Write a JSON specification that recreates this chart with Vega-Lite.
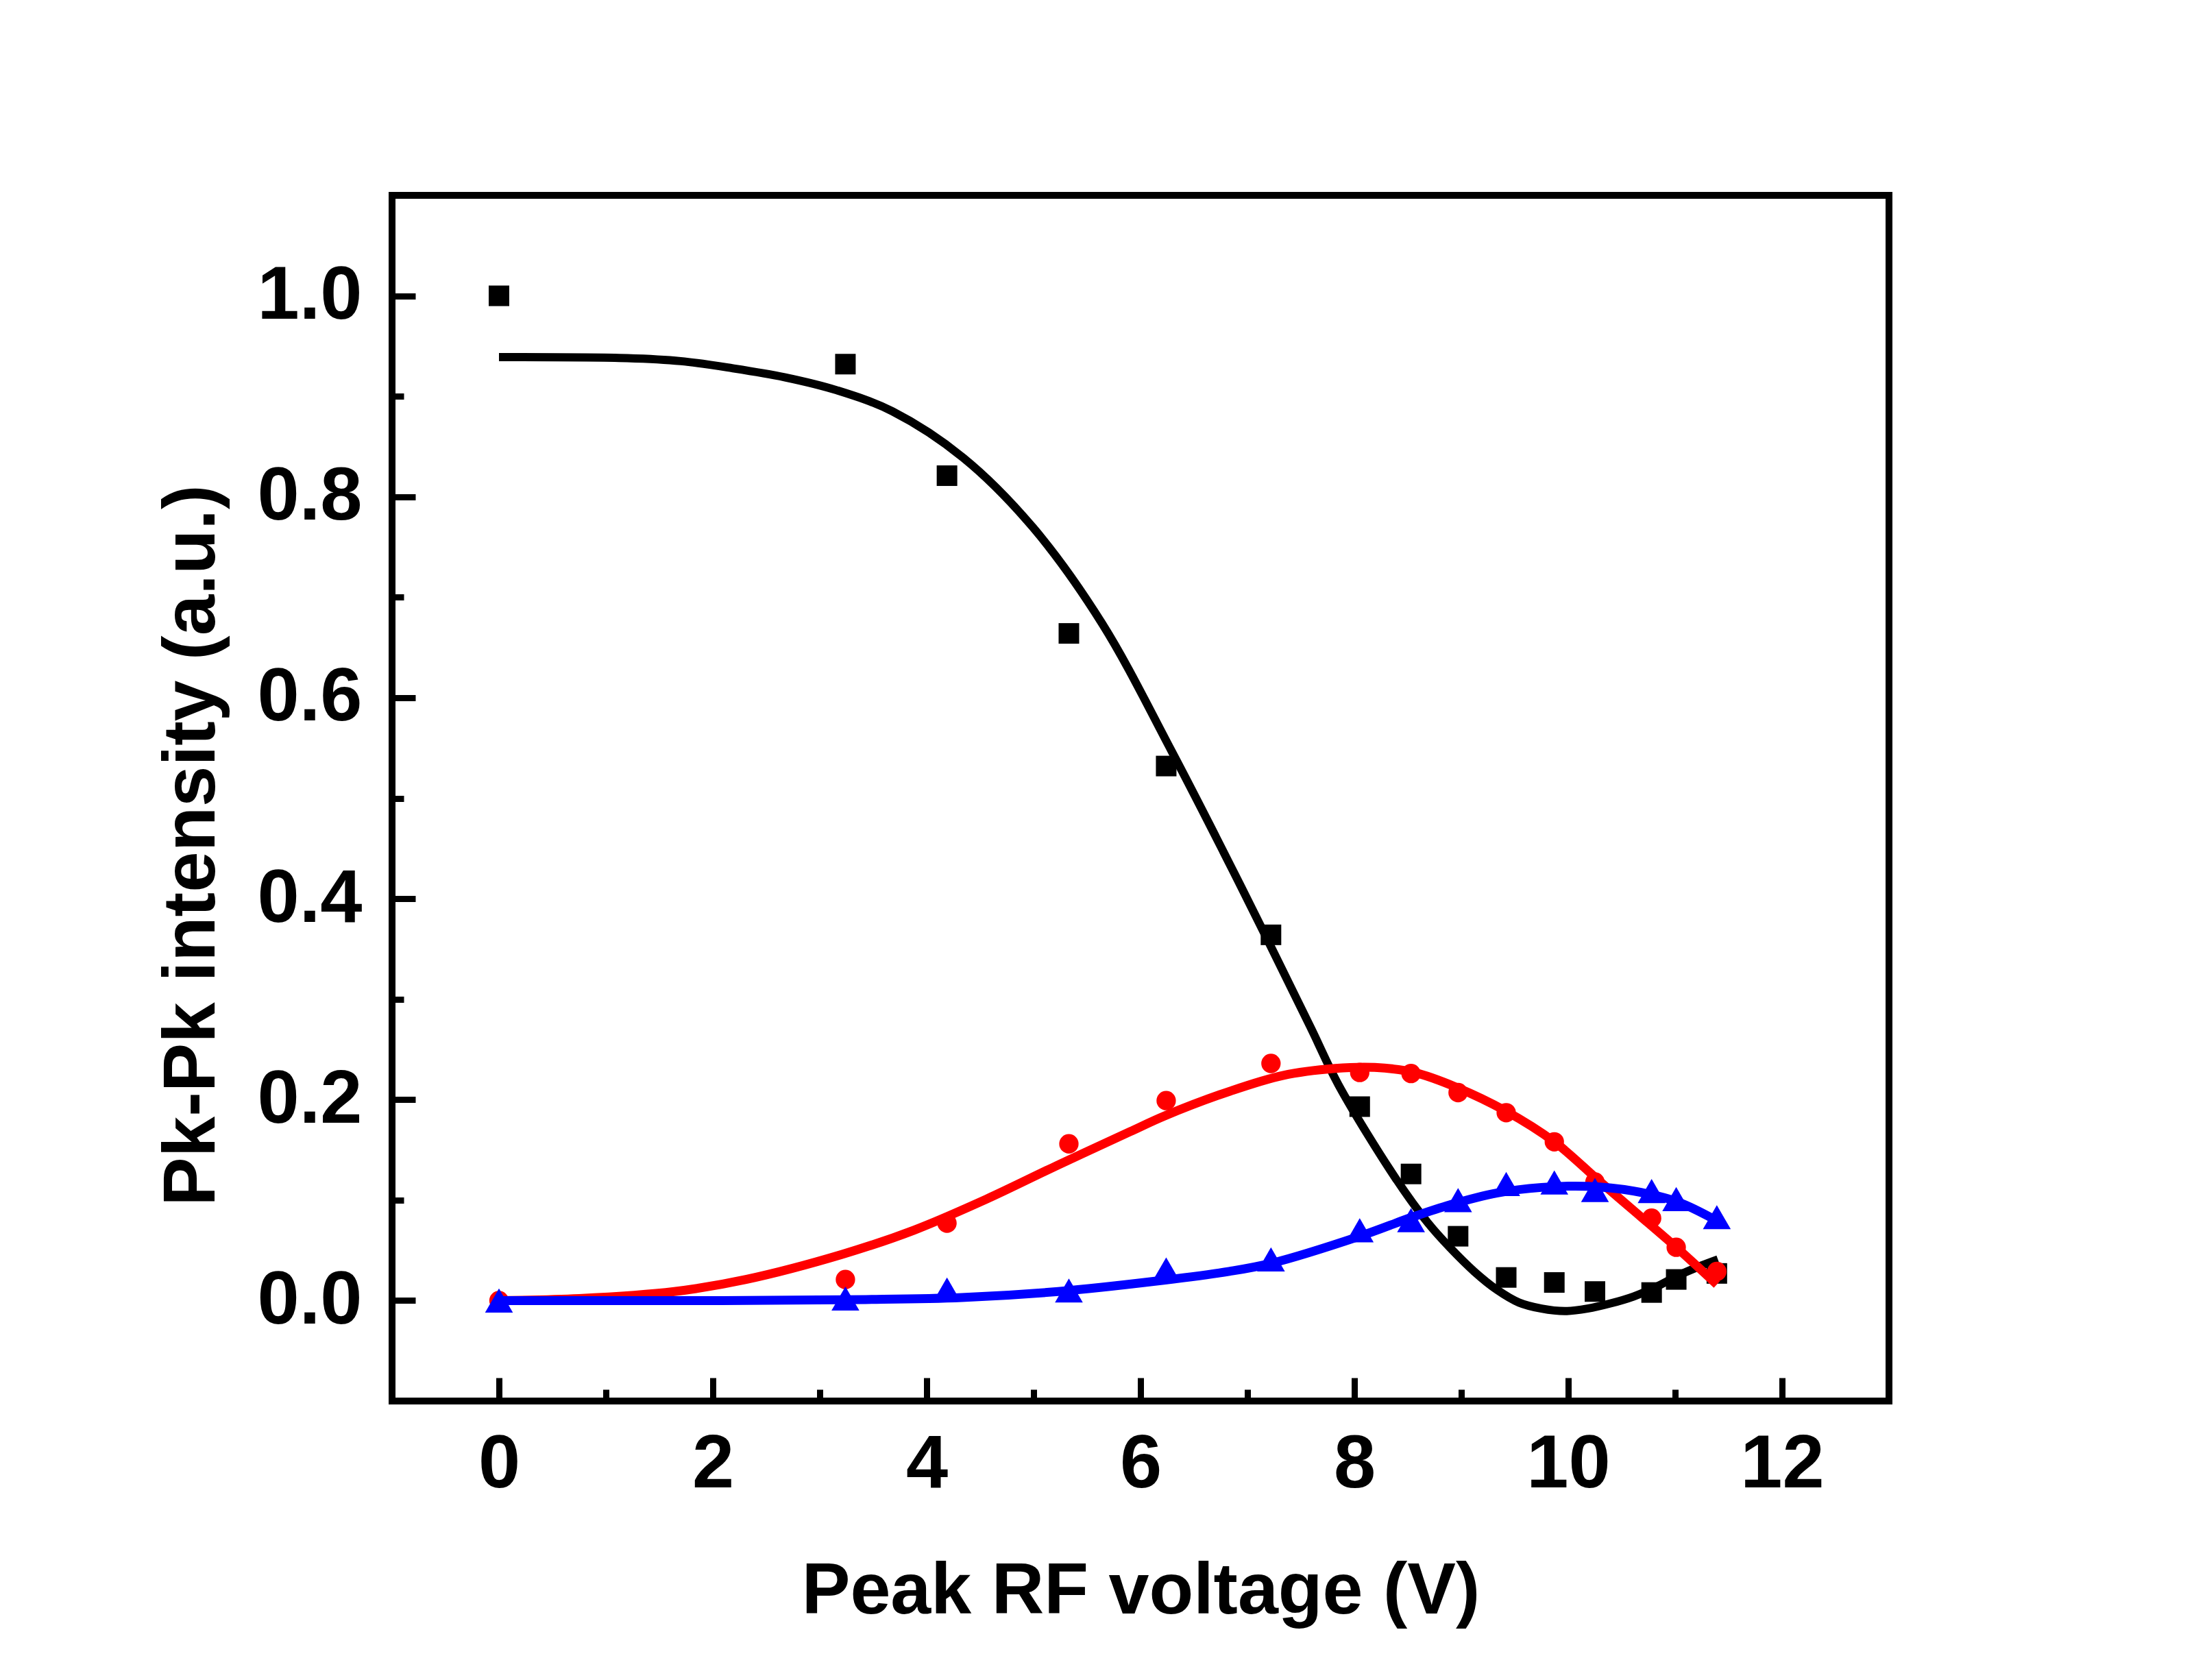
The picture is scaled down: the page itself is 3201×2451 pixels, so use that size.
{
  "$schema": "https://vega.github.io/schema/vega-lite/v6.json",
  "width": 2184,
  "height": 1759,
  "autosize": "none",
  "padding": {"left": 572, "top": 285, "right": 445, "bottom": 407},
  "background": "white",
  "config": {
    "view": {"stroke": "black", "strokeWidth": 10},
    "axis": {
      "labelFont": "Liberation Sans",
      "titleFont": "Liberation Sans",
      "labelFontWeight": "bold",
      "titleFontWeight": "bold",
      "labelColor": "black",
      "titleColor": "black",
      "tickColor": "black",
      "grid": false,
      "domain": false
    }
  },
  "datasets": {
    "blackPts": [
      {"V": 0, "I": 1.0}, {"V": 3.24, "I": 0.932}, {"V": 4.19, "I": 0.821},
      {"V": 5.33, "I": 0.664}, {"V": 6.24, "I": 0.532}, {"V": 7.22, "I": 0.364},
      {"V": 8.05, "I": 0.193}, {"V": 8.53, "I": 0.126}, {"V": 8.97, "I": 0.064},
      {"V": 9.42, "I": 0.023}, {"V": 9.87, "I": 0.018}, {"V": 10.25, "I": 0.009},
      {"V": 10.78, "I": 0.008}, {"V": 11.01, "I": 0.021}, {"V": 11.39, "I": 0.027}
    ],
    "redPts": [
      {"V": 0, "I": 0.0}, {"V": 3.24, "I": 0.021}, {"V": 4.19, "I": 0.077},
      {"V": 5.33, "I": 0.156}, {"V": 6.24, "I": 0.199}, {"V": 7.22, "I": 0.236},
      {"V": 8.05, "I": 0.227}, {"V": 8.53, "I": 0.226}, {"V": 8.97, "I": 0.207},
      {"V": 9.42, "I": 0.187}, {"V": 9.87, "I": 0.158}, {"V": 10.25, "I": 0.118},
      {"V": 10.78, "I": 0.082}, {"V": 11.01, "I": 0.053}, {"V": 11.39, "I": 0.029}
    ],
    "bluePts": [
      {"V": 0, "I": 0.0}, {"V": 3.24, "I": 0.002}, {"V": 4.19, "I": 0.011},
      {"V": 5.33, "I": 0.010}, {"V": 6.24, "I": 0.031}, {"V": 7.22, "I": 0.041},
      {"V": 8.05, "I": 0.070}, {"V": 8.53, "I": 0.080}, {"V": 8.97, "I": 0.100},
      {"V": 9.42, "I": 0.116}, {"V": 9.87, "I": 0.1175}, {"V": 10.25, "I": 0.110},
      {"V": 10.78, "I": 0.109}, {"V": 11.01, "I": 0.101}, {"V": 11.39, "I": 0.083}
    ],
    "blackFit": [
      {"V": 0, "I": 0.939}, {"V": 1.2, "I": 0.938}, {"V": 1.7, "I": 0.935},
      {"V": 2.18, "I": 0.928}, {"V": 2.67, "I": 0.919}, {"V": 3.16, "I": 0.906},
      {"V": 3.68, "I": 0.885}, {"V": 4.34, "I": 0.839}, {"V": 4.99, "I": 0.770},
      {"V": 5.64, "I": 0.674}, {"V": 6.29, "I": 0.547}, {"V": 6.94, "I": 0.412},
      {"V": 7.59, "I": 0.272}, {"V": 7.85, "I": 0.215}, {"V": 8.39, "I": 0.121},
      {"V": 8.69, "I": 0.077}, {"V": 8.90, "I": 0.052}, {"V": 9.12, "I": 0.029},
      {"V": 9.33, "I": 0.011}, {"V": 9.54, "I": -0.002}, {"V": 9.75, "I": -0.008},
      {"V": 9.97, "I": -0.0105}, {"V": 10.18, "I": -0.008}, {"V": 10.39, "I": -0.003},
      {"V": 10.61, "I": 0.004}, {"V": 10.82, "I": 0.0135}, {"V": 11.03, "I": 0.025},
      {"V": 11.25, "I": 0.035}, {"V": 11.40, "I": 0.041}
    ],
    "redFit": [
      {"V": 0, "I": 0.0}, {"V": 0.75, "I": 0.002}, {"V": 1.64, "I": 0.009},
      {"V": 2.31, "I": 0.021}, {"V": 3.21, "I": 0.046}, {"V": 3.88, "I": 0.070},
      {"V": 4.56, "I": 0.101}, {"V": 5.23, "I": 0.135}, {"V": 5.9, "I": 0.168},
      {"V": 6.23, "I": 0.184}, {"V": 6.84, "I": 0.2085}, {"V": 7.33, "I": 0.224},
      {"V": 7.82, "I": 0.231}, {"V": 8.19, "I": 0.232}, {"V": 8.56, "I": 0.227},
      {"V": 8.96, "I": 0.212}, {"V": 9.41, "I": 0.189}, {"V": 9.87, "I": 0.158},
      {"V": 10.29, "I": 0.119}, {"V": 10.64, "I": 0.087}, {"V": 11.01, "I": 0.053},
      {"V": 11.39, "I": 0.016}
    ],
    "blueFit": [
      {"V": 0, "I": 0.0}, {"V": 2.09, "I": 0.0}, {"V": 3.43, "I": 0.001},
      {"V": 4.33, "I": 0.003}, {"V": 5.23, "I": 0.009}, {"V": 6.12, "I": 0.019},
      {"V": 6.83, "I": 0.029}, {"V": 7.22, "I": 0.037}, {"V": 8.05, "I": 0.064},
      {"V": 8.54, "I": 0.083}, {"V": 8.90, "I": 0.0955}, {"V": 9.33, "I": 0.107},
      {"V": 9.75, "I": 0.1126}, {"V": 10.18, "I": 0.1137}, {"V": 10.61, "I": 0.109},
      {"V": 11.03, "I": 0.098}, {"V": 11.38, "I": 0.080}
    ]
  },
  "encoding": {
    "x": {"field": "V", "type": "quantitative", "scale": {"domain": [-1, 13], "nice": false, "zero": false}, "axis": null},
    "y": {"field": "I", "type": "quantitative", "scale": {"domain": [-0.1, 1.1], "nice": false, "zero": false}, "axis": null}
  },
  "resolve": {"axis": {"x": "independent", "y": "independent"}},
  "layer": [
    {
      "data": {"name": "blackFit"},
      "mark": {"type": "line", "color": "black", "strokeWidth": 12, "interpolate": "catmull-rom"},
      "encoding": {
        "x": {
          "field": "V", "type": "quantitative",
          "scale": {"domain": [-1, 13], "nice": false, "zero": false},
          "axis": {
            "orient": "bottom", "values": [0, 2, 4, 6, 8, 10, 12], "format": "d",
            "tickSize": -34, "tickWidth": 9, "labelFontSize": 110,
            "labelBaseline": "alphabetic", "labelPadding": 159,
            "title": "Peak RF voltage (V)", "titleFontSize": 106,
            "titleBaseline": "alphabetic", "titleX": 1092, "titleY": 309, "titleAnchor": null
          }
        },
        "y": {
          "field": "I", "type": "quantitative",
          "scale": {"domain": [-0.1, 1.1], "nice": false, "zero": false},
          "axis": {
            "orient": "left", "values": [0, 0.2, 0.4, 0.6, 0.8, 1.0], "format": ".1f",
            "tickSize": -34, "tickWidth": 9, "labelFontSize": 110,
            "labelBaseline": "middle", "labelAlign": "right", "labelPadding": 78,
            "title": "Pk-Pk intensity (a.u.)", "titleFontSize": 107,
            "titleBaseline": "alphabetic", "titleX": -260, "titleY": 948, "titleAngle": -90
          }
        }
      }
    },
    {
      "data": {"name": "blackPts"},
      "mark": {"type": "point", "shape": "square", "filled": true, "opacity": 1, "size": 900, "color": "black"},
      "encoding": {
        "x": {
          "field": "V", "type": "quantitative",
          "scale": {"domain": [-1, 13], "nice": false, "zero": false},
          "axis": {"orient": "bottom", "values": [1, 3, 5, 7, 9, 11], "labels": false, "tickSize": -17, "tickWidth": 9, "title": null}
        },
        "y": {
          "field": "I", "type": "quantitative",
          "scale": {"domain": [-0.1, 1.1], "nice": false, "zero": false},
          "axis": {"orient": "left", "values": [0.1, 0.3, 0.5, 0.7, 0.9], "labels": false, "tickSize": -17, "tickWidth": 9, "title": null}
        }
      }
    },
    {
      "data": {"name": "redFit"},
      "mark": {"type": "line", "color": "#ff0000", "strokeWidth": 13, "interpolate": "catmull-rom"}
    },
    {
      "data": {"name": "redPts"},
      "mark": {"type": "point", "shape": "circle", "filled": true, "opacity": 1, "size": 800, "color": "#ff0000"}
    },
    {
      "data": {"name": "blueFit"},
      "mark": {"type": "line", "color": "#0000ff", "strokeWidth": 13, "interpolate": "catmull-rom"}
    },
    {
      "data": {"name": "bluePts"},
      "mark": {"type": "point", "shape": "triangle-up", "filled": true, "opacity": 1, "size": 1650, "color": "#0000ff"}
    }
  ]
}
